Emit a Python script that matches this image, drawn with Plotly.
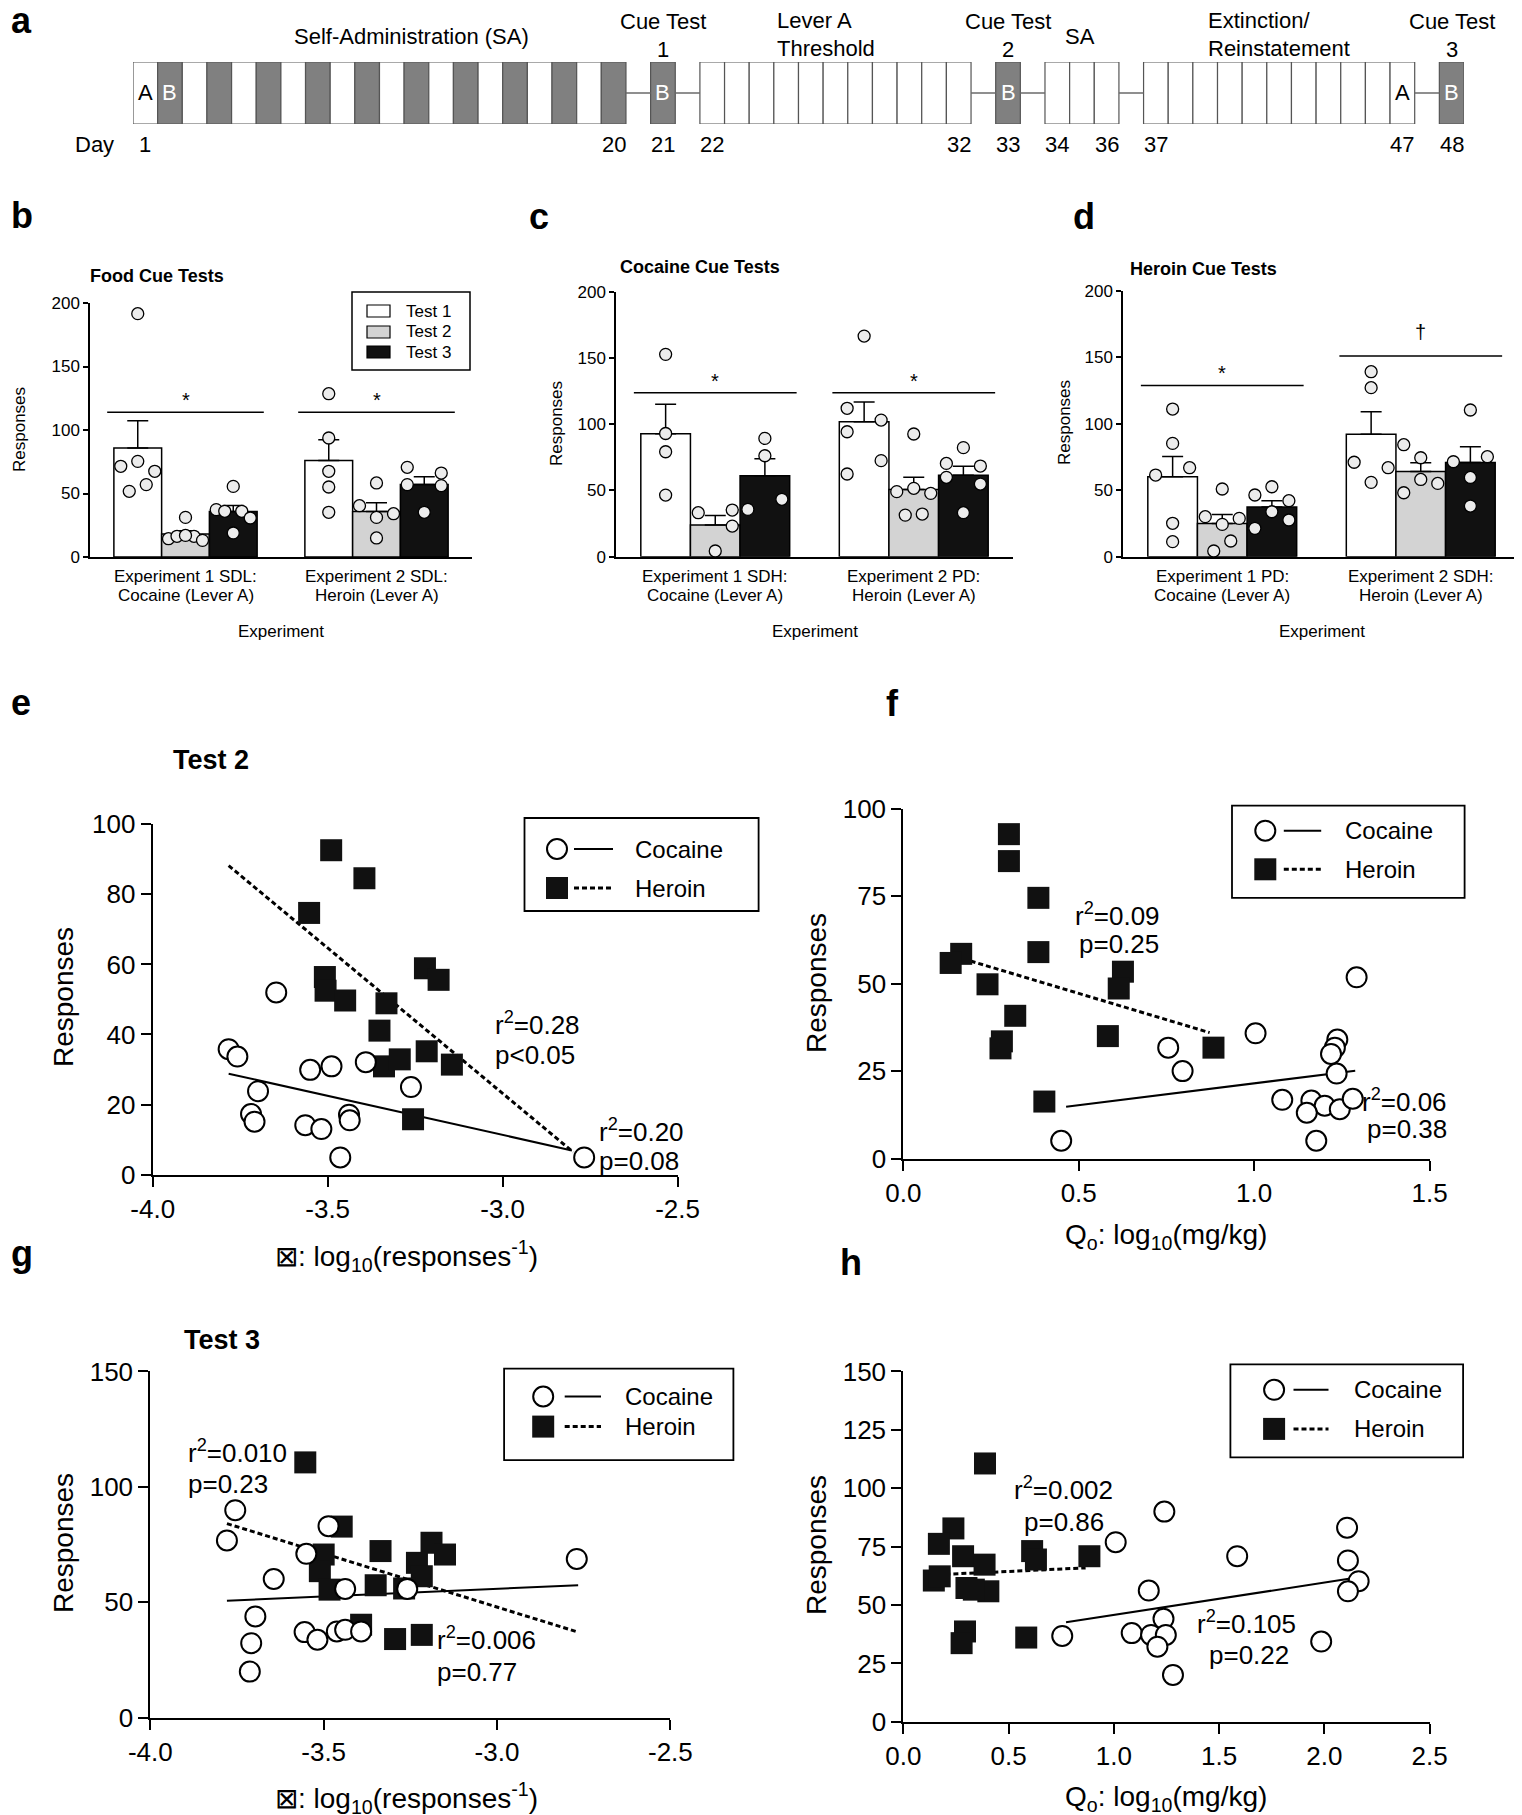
import numpy as np
import plotly.graph_objects as go

W, H = 1522, 1815
OFF = 8  # the page body adds an 8 px margin around the plot div
FONT = "Liberation Sans, Arial, Helvetica, sans-serif"

# ---------------- a: experiment timeline ----------------
phase_days = [(1, 20), (21, 21), (22, 32), (33, 33), (34, 36), (37, 47), (48, 48)]
lever_b_days = [2, 4, 6, 8, 10, 12, 14, 16, 18, 20, 21, 33, 48]
box_letters = {1: "A", 2: "B", 21: "B", 33: "B", 47: "A", 48: "B"}
day_ticks = [1, 20, 21, 22, 32, 33, 34, 36, 37, 47, 48]

# ---------------- b-d: cue tests, values per experiment [exp 1, exp 2] ----------------
test_names = ["Test 1", "Test 2", "Test 3"]

food_labels = [["Experiment 1 SDL:", "Cocaine (Lever A)"], ["Experiment 2 SDL:", "Heroin (Lever A)"]]
food_t1 = [[191.6, 71.4, 75.3, 67.5, 51.7, 57.0], [128.6, 93.7, 67.5, 55.1, 35.2]]
food_t2 = [[31.2, 14.4, 16.3, 16.3, 17.0, 13.1], [40.4, 58.3, 31.2, 34.1, 15.0]]
food_t3 = [[55.6, 37.3, 36.0, 36.0, 30.7, 18.9], [70.6, 57.0, 66.1, 56.2, 35.2]]
food_t1_pos = [[0, -2, 0, 2, -1, 1], [0, 0, 0, 0, 0]]
food_t2_pos = [[0, -2, -1, 1, 0, 2], [-2, 0, 0, 2, 0]]
food_t3_pos = [[0, -2, -1, 1, 2, 0], [-2, -2, 2, 2, 0]]
food_sig = [113.9, 113.9]
food_marks = ["*", "*"]

coc_labels = [["Experiment 1 SDH:", "Cocaine (Lever A)"], ["Experiment 2 PD:", "Heroin (Lever A)"]]
coc_t1 = [[152.7, 93.0, 79.2, 46.5], [166.5, 112.0, 94.3, 103.1, 72.5, 62.4]]
coc_t2 = [[33.2, 35.2, 23.1, 4.3], [92.6, 49.1, 51.6, 47.8, 31.4, 32.2]]
coc_t3 = [[89.3, 76.2, 35.7, 43.3], [82.3, 70.4, 68.4, 59.9, 54.8, 33.2]]
coc_t1_pos = [[0, 0, 0, 0], [0, -2, -2, 2, 2, -2]]
coc_t2_pos = [[-2, 2, 2, 0], [0, -2, 0, 2, -1, 1]]
coc_t3_pos = [[0, 0, -2, 2], [0, -2, 2, -2, 2, 0]]
coc_sig = [123.8, 123.8]
coc_marks = ["*", "*"]

her_labels = [["Experiment 1 PD:", "Cocaine (Lever A)"], ["Experiment 2 SDH:", "Heroin (Lever A)"]]
her_t1 = [[111.0, 85.2, 61.4, 66.9, 25.1, 11.3], [139.1, 127.1, 71.0, 66.9, 55.9]]
her_t2 = [[50.9, 30.1, 28.8, 24.3, 11.8, 4.3], [84.2, 74.4, 58.1, 55.1, 48.1]]
her_t3 = [[52.6, 46.4, 42.1, 33.8, 27.6, 21.3], [110.3, 71.4, 75.2, 59.6, 38.1]]
her_t1_pos = [[0, 0, -2, 2, 0, 0], [0, 0, -2, 2, 0]]
her_t2_pos = [[0, -2, 2, 0, 1, -1], [-2, 0, 0, 2, -2]]
her_t3_pos = [[0, -2, 2, 0, 2, -2], [0, -2, 2, 0, 0]]
her_sig = [128.8, 150.9]
her_marks = ["*", "\u2020"]

# ---------------- e-h: responses vs demand parameters ----------------
e_coc_x = [-3.783, -3.758, -3.647, -3.699, -3.719, -3.709, -3.550, -3.489, -3.391, -3.262,
           -3.564, -3.518, -3.439, -3.437, -3.464, -2.767]
e_coc_y = [35.8, 33.7, 52.0, 23.8, 17.3, 15.1, 29.9, 30.9, 32.1, 25.0, 14.1, 13.0, 17.1, 15.5, 4.9, 4.9]
e_her_x = [-3.490, -3.395, -3.553, -3.508, -3.506, -3.450, -3.332, -3.352, -3.222, -3.183,
           -3.217, -3.339, -3.294, -3.145, -3.256]
e_her_y = [92.6, 84.6, 74.7, 56.4, 52.5, 49.7, 48.9, 41.1, 58.9, 55.6, 35.2, 30.9, 32.9, 31.4, 15.8]
e_coc_fit_x, e_coc_fit_y = [-3.783, -2.802], [28.8, 6.9]
e_her_fit_x, e_her_fit_y = [-3.783, -2.798], [88.2, 6.4]
e_stats = [["r<sup>2</sup>=0.28", "p&lt;0.05"], ["r<sup>2</sup>=0.20", "p=0.08"]]

f_coc_x = [1.292, 1.004, 0.755, 0.796, 1.237, 1.230, 1.219, 1.235, 1.080, 1.163,
           1.201, 1.150, 1.244, 1.281, 1.177, 0.450]
f_coc_y = [51.8, 35.8, 31.7, 25.0, 34.0, 31.7, 29.9, 24.3, 16.8, 16.6, 15.1, 13.1, 14.1, 17.1, 5.1, 5.1]
f_her_x = [0.301, 0.301, 0.385, 0.385, 0.165, 0.135, 0.240, 0.319, 0.281, 0.277,
           0.626, 0.614, 0.583, 0.884, 0.402]
f_her_y = [92.7, 85.0, 74.5, 59.0, 58.5, 55.9, 49.8, 40.8, 33.5, 31.5, 53.4, 48.6, 35.0, 31.7, 16.3]
f_coc_fit_x, f_coc_fit_y = [0.464, 1.288], [14.8, 25.1]
f_her_fit_x, f_her_fit_y = [0.170, 0.873], [57.1, 36.0]
f_stats = [["r<sup>2</sup>=0.09", "p=0.25"], ["r<sup>2</sup>=0.06", "p=0.38"]]

g_coc_x = [-3.755, -3.779, -3.550, -3.486, -3.644, -3.438, -3.259, -2.770, -3.697, -3.709,
           -3.713, -3.555, -3.518, -3.462, -3.438, -3.392]
g_coc_y = [89.9, 76.8, 71.0, 83.0, 60.1, 55.8, 55.8, 68.8, 43.9, 32.3, 20.0, 37.1, 33.8, 37.4, 38.1, 37.4]
g_her_x = [-3.553, -3.448, -3.336, -3.189, -3.150, -3.231, -3.500, -3.511, -3.217, -3.350,
           -3.483, -3.392, -3.294, -3.217, -3.268]
g_her_y = [110.6, 82.8, 72.2, 75.8, 70.7, 67.1, 70.7, 63.5, 61.3, 57.4, 55.5, 40.3, 34.1, 35.9, 56.0]
g_coc_fit_x, g_coc_fit_y = [-3.779, -2.766], [50.7, 57.4]
g_her_fit_x, g_her_fit_y = [-3.779, -2.766], [84.1, 37.1]
g_stats = [["r<sup>2</sup>=0.010", "p=0.23"], ["r<sup>2</sup>=0.006", "p=0.77"]]

h_coc_x = [1.240, 1.009, 1.586, 2.108, 2.112, 2.163, 2.112, 1.166, 1.236, 1.085,
           1.177, 1.247, 1.207, 1.281, 0.755, 1.985]
h_coc_y = [90.0, 76.9, 70.9, 83.1, 69.1, 60.2, 55.9, 56.2, 44.1, 38.0, 37.2, 37.2, 32.2, 20.1, 36.8, 34.4]
h_her_x = [0.388, 0.238, 0.169, 0.284, 0.386, 0.612, 0.630, 0.884, 0.145, 0.173,
           0.300, 0.404, 0.335, 0.293, 0.277, 0.584]
h_her_y = [110.6, 82.8, 76.2, 70.9, 67.3, 73.1, 69.5, 70.9, 60.5, 62.3, 57.3, 55.9, 56.6, 38.7, 33.7, 36.1]
h_coc_fit_x, h_coc_fit_y = [0.773, 2.170], [42.6, 62.0]
h_her_fit_x, h_her_fit_y = [0.162, 0.866], [63.0, 65.9]
h_stats = [["r<sup>2</sup>=0.002", "p=0.86"], ["r<sup>2</sup>=0.105", "p=0.22"]]

series_names = ["Cocaine", "Heroin"]

# ---------------- figure helpers ----------------
fig = go.Figure()
layout = dict(width=W, height=H, margin=dict(l=0, r=0, t=0, b=0), paper_bgcolor="white",
              plot_bgcolor="rgba(0,0,0,0)", showlegend=False, barmode="overlay",
              font=dict(family=FONT, color="black"))
annotations, shapes = [], []


def fx(x):
    # page pixel -> paper fraction
    return (x - OFF) / W


def fy(y):
    return 1 - (y - OFF) / H


def text(s, x, y, size, anchor="center", bold=False, color="black", angle=0, xref="paper", yref="paper"):
    annotations.append(dict(
        text=f"<b>{s}</b>" if bold else s,
        x=fx(x) if xref == "paper" else x, y=fy(y) if yref == "paper" else y,
        xref=xref, yref=yref, xanchor=anchor, yanchor="middle", showarrow=False,
        textangle=angle, font=dict(family=FONT, size=size, color=color)))


def make_axes(i, box, xr, yr):
    left, top, right, bottom = box
    s = "" if i == 1 else str(i)
    common = dict(showgrid=False, zeroline=False, automargin=False, fixedrange=True)
    layout["xaxis" + s] = dict(domain=[fx(left), fx(right)], range=xr, anchor="y" + s, **common)
    layout["yaxis" + s] = dict(domain=[fy(bottom), fy(top)], range=yr, anchor="x" + s, **common)
    return "xaxis" + s, "yaxis" + s, "x" + s, "y" + s


# ---------------- panel a ----------------
slot_of = {}
slot = 0
for d0, d1 in phase_days:
    for d in range(d0, d1 + 1):
        slot_of[d] = slot
        slot += 1
    slot += 1
n_slots = slot - 1

xa, ya, xr, yr = make_axes(1, (133, 62, 1464, 124), [0, n_slots], [0, 1])
layout[xa]["visible"] = False
layout[ya]["visible"] = False

days = sorted(slot_of)
cx, cy = [], []
for (a0, a1), (b0, b1) in zip(phase_days[:-1], phase_days[1:]):
    cx += [slot_of[a1] + 1, slot_of[b0], None]
    cy += [0.5, 0.5, None]
fig.add_trace(go.Scatter(x=cx, y=cy, mode="lines", line=dict(color="#6a6a6a", width=1.5),
                         xaxis=xr, yaxis=yr, hoverinfo="skip"))
fig.add_trace(go.Bar(x=[slot_of[d] + 0.5 for d in days], y=[1] * len(days), width=1,
                     marker=dict(color=["#808080" if d in lever_b_days else "white" for d in days],
                                 line=dict(color="#555555", width=1.2)),
                     xaxis=xr, yaxis=yr, hoverinfo="skip"))
for d, s in box_letters.items():
    text(s, slot_of[d] + 0.5, 0.5, 22, color="white" if d in lever_b_days else "black", xref=xr, yref=yr)
for d in day_ticks:
    text(str(d), slot_of[d] + 0.5, 145, 22, xref=xr)
text("Day", 73, 145, 22, anchor="left")
text("Self-Administration (SA)", 411, 37, 22)
for num, cxp in zip(["1", "2", "3"], [slot_of[21], slot_of[33], slot_of[48]]):
    text("Cue Test", cxp + 0.5, 21, 22, xref=xr)
    text(num, cxp + 0.5, 50, 22, xref=xr)
text("Lever A", 775, 20, 22, anchor="left")
text("Threshold", 775, 48, 22, anchor="left")
text("SA", 1080, 37, 22)
text("Extinction/", 1206, 20, 22, anchor="left")
text("Reinstatement", 1206, 48, 22, anchor="left")

# ---------------- panels b-d ----------------
BAR_W = 0.25
bar_colors = ["white", "#d3d3d3", "#111111"]


def bar_panel(i, box, tests, pos, labels, sig_y, marks, title, title_xy):
    left, top, right, bottom = box
    xa, ya, xr, yr = make_axes(i, box, [-0.5, 1.5], [0, 200])
    layout[xa].update(showline=True, linecolor="black", linewidth=1.5, ticks="", showticklabels=False)
    layout[ya].update(showline=True, linecolor="black", linewidth=1.5, ticks="outside", ticklen=5,
                      tickwidth=1.5, tickcolor="black", tickvals=[0, 50, 100, 150, 200],
                      ticktext=["0", "50", "100", "150", "200"],
                      tickfont=dict(family=FONT, size=17, color="black"))
    unit_px = (right - left) / 2
    step = 8.5 / unit_px
    for k, vals in enumerate(tests):
        means = [float(np.mean(v)) for v in vals]
        sems = [float(np.std(v, ddof=1) / np.sqrt(len(v))) for v in vals]
        fig.add_trace(go.Bar(
            x=[g + (k - 1) * BAR_W for g in range(len(vals))], y=means, width=BAR_W,
            marker=dict(color=bar_colors[k], line=dict(color="black", width=1.5)),
            error_y=dict(type="data", array=sems, arrayminus=[0] * len(vals), symmetric=False,
                         color="black", thickness=1.5, width=10.5),
            name=test_names[k], xaxis=xr, yaxis=yr, hoverinfo="skip"))
    for k, (vals, p) in enumerate(zip(tests, pos)):
        xs, ys = [], []
        for g, (v, o) in enumerate(zip(vals, p)):
            xs += [g + (k - 1) * BAR_W + oo * step for oo in o]
            ys += list(v)
        fig.add_trace(go.Scatter(x=xs, y=ys, mode="markers", cliponaxis=False,
                                 marker=dict(size=12, color="#ececec", line=dict(color="black", width=1.3)),
                                 xaxis=xr, yaxis=yr, hoverinfo="skip"))
    scale = (bottom - top) / 200
    for g, (sy, m) in enumerate(zip(sig_y, marks)):
        shapes.append(dict(type="line", xref=xr, yref=yr, x0=g - 0.41, x1=g + 0.41, y0=sy, y1=sy,
                           line=dict(color="black", width=1.5)))
        ly = bottom - sy * scale
        if m == "*":
            text(m, g, ly - 12, 20, xref=xr)
        else:
            text(m, g, ly - 24, 20, xref=xr)
    for g, (l1, l2) in enumerate(labels):
        text(l1, g, 576, 17, xref=xr)
        text(l2, g, 595, 17, xref=xr)
    text("Experiment", (left + right) / 2, 631, 17)
    text(title, title_xy[0], title_xy[1], 18, anchor="left", bold=True)


bar_panel(2, (90, 303, 472, 557), [food_t1, food_t2, food_t3], [food_t1_pos, food_t2_pos, food_t3_pos],
          food_labels, food_sig, food_marks, "Food Cue Tests", (88, 276))
bar_panel(3, (616, 291.7, 1013, 556.7), [coc_t1, coc_t2, coc_t3], [coc_t1_pos, coc_t2_pos, coc_t3_pos],
          coc_labels, coc_sig, coc_marks, "Cocaine Cue Tests", (618, 267))
bar_panel(4, (1123, 290.7, 1520, 556.7), [her_t1, her_t2, her_t3], [her_t1_pos, her_t2_pos, her_t3_pos],
          her_labels, her_sig, her_marks, "Heroin Cue Tests", (1128, 269))
text("Responses", 20, 430, 17, angle=-90)
text("Responses", 557, 424, 17, angle=-90)
text("Responses", 1065, 423, 17, angle=-90)

# legend of panel b
shapes.append(dict(type="rect", xref="paper", yref="paper", x0=fx(352), x1=fx(470), y0=fy(370), y1=fy(292),
                   line=dict(color="black", width=1.5), fillcolor="white"))
for k, ry in enumerate([311, 332, 352]):
    shapes.append(dict(type="rect", xref="paper", yref="paper", x0=fx(367), x1=fx(390), y0=fy(ry + 6),
                       y1=fy(ry - 6), line=dict(color="black", width=1.2), fillcolor=bar_colors[k]))
    text(test_names[k], 404, ry, 17, anchor="left")

# ---------------- panels e-h ----------------


def scatter_panel(i, box, xr_, yr_, xticks, yticks, coc, her, coc_fit, her_fit, stats, stat_xy, leg):
    left, top, right, bottom = box
    xa, ya, xr, yr = make_axes(i, box, xr_, yr_)
    ax = dict(showline=True, linecolor="black", linewidth=2, ticks="outside", ticklen=10, tickwidth=2,
              tickcolor="black", tickfont=dict(family=FONT, size=26, color="black"))
    layout[xa].update(ax, tickvals=xticks, ticktext=[f"{v:.1f}" for v in xticks])
    layout[ya].update(ax, tickvals=yticks, ticktext=[str(v) for v in yticks])
    fig.add_trace(go.Scatter(x=coc_fit[0], y=coc_fit[1], mode="lines", line=dict(color="black", width=2),
                             xaxis=xr, yaxis=yr, hoverinfo="skip"))
    fig.add_trace(go.Scatter(x=her_fit[0], y=her_fit[1], mode="lines",
                             line=dict(color="black", width=3, dash="5px,3px"),
                             xaxis=xr, yaxis=yr, hoverinfo="skip"))
    fig.add_trace(go.Scatter(x=her[0], y=her[1], mode="markers", cliponaxis=False,
                             marker=dict(symbol="square", size=22, color="#111111", line=dict(width=0)),
                             name=series_names[1], xaxis=xr, yaxis=yr, hoverinfo="skip"))
    fig.add_trace(go.Scatter(x=coc[0], y=coc[1], mode="markers", cliponaxis=False,
                             marker=dict(symbol="circle", size=20, color="white",
                                         line=dict(color="black", width=2)),
                             name=series_names[0], xaxis=xr, yaxis=yr, hoverinfo="skip"))
    for (s1, s2), (x1, y1, x2, y2) in zip(stats, stat_xy):
        text(s1, x1, y1, 26, anchor="left")
        text(s2, x2, y2, 26, anchor="left")
    # legend
    bx0, by0, bx1, by1 = leg["box"]
    shapes.append(dict(type="rect", xref="paper", yref="paper", x0=fx(bx0), x1=fx(bx1), y0=fy(by1),
                       y1=fy(by0), line=dict(color="black", width=1.8), fillcolor="white", layer="below"))
    c = leg["cx"]
    r0, r1 = leg["rows"]
    shapes.append(dict(type="circle", xref="paper", yref="paper", x0=fx(c - 10), x1=fx(c + 10),
                       y0=fy(r0 + 10), y1=fy(r0 - 10), line=dict(color="black", width=2), fillcolor="white"))
    shapes.append(dict(type="rect", xref="paper", yref="paper", x0=fx(c - 11), x1=fx(c + 11),
                       y0=fy(r1 + 11), y1=fy(r1 - 11), line=dict(width=0), fillcolor="#111111"))
    lx0, lx1 = leg["line"]
    shapes.append(dict(type="line", xref="paper", yref="paper", x0=fx(lx0), x1=fx(lx1), y0=fy(r0), y1=fy(r0),
                       line=dict(color="black", width=2)))
    shapes.append(dict(type="line", xref="paper", yref="paper", x0=fx(lx0), x1=fx(lx1), y0=fy(r1), y1=fy(r1),
                       line=dict(color="black", width=3, dash="5px,3px")))
    text(series_names[0], leg["tx"], r0, 24, anchor="left")
    text(series_names[1], leg["tx"], r1, 24, anchor="left")


alpha_title = "\u22a0: log<sub>10</sub>(responses<sup>-1</sup>)"
q0_title = "Q<sub>o</sub>: log<sub>10</sub>(mg/kg)"

scatter_panel(5, (152.7, 824.3, 677.6, 1174.6), [-4, -2.5], [0, 100], [-4.0, -3.5, -3.0, -2.5],
              [0, 20, 40, 60, 80, 100], (e_coc_x, e_coc_y), (e_her_x, e_her_y),
              (e_coc_fit_x, e_coc_fit_y), (e_her_fit_x, e_her_fit_y), e_stats,
              [(493, 1023.6, 493, 1054.6), (597, 1130.7, 597, 1161)],
              dict(box=(524.5, 818, 758.6, 911), cx=557, rows=(849, 888), line=(574, 613), tx=632.6))
scatter_panel(6, (903.3, 808.6, 1429.6, 1158.6), [0, 1.5], [0, 100], [0.0, 0.5, 1.0, 1.5],
              [0, 25, 50, 75, 100], (f_coc_x, f_coc_y), (f_her_x, f_her_y),
              (f_coc_fit_x, f_coc_fit_y), (f_her_fit_x, f_her_fit_y), f_stats,
              [(1073.4, 914.6, 1076.8, 944.3), (1360.1, 1100.4, 1365, 1129)],
              dict(box=(1232, 805.7, 1464.6, 897.9), cx=1265.3, rows=(830.7, 869.3), line=(1283.8, 1321.2),
                   tx=1343))
scatter_panel(7, (150.3, 1371.4, 670.4, 1717.8), [-4, -2.5], [0, 150], [-4.0, -3.5, -3.0, -2.5],
              [0, 50, 100, 150], (g_coc_x, g_coc_y), (g_her_x, g_her_y),
              (g_coc_fit_x, g_coc_fit_y), (g_her_fit_x, g_her_fit_y), g_stats,
              [(185.7, 1451.4, 185.7, 1483.5), (434.8, 1638.8, 434.8, 1672.3)],
              dict(box=(504.1, 1368.7, 733.4, 1460.1), cx=543.2, rows=(1396.5, 1426.6), line=(564.7, 601),
                   tx=622.9))
scatter_panel(8, (903.3, 1371.4, 1429.6, 1721.9), [0, 2.5], [0, 150], [0.0, 0.5, 1.0, 1.5, 2.0, 2.5],
              [0, 25, 50, 75, 100, 125, 150], (h_coc_x, h_coc_y), (h_her_x, h_her_y),
              (h_coc_fit_x, h_coc_fit_y), (h_her_fit_x, h_her_fit_y), h_stats,
              [(1011.7, 1488.2, 1022.4, 1521.7), (1194.9, 1622, 1207, 1654.9)],
              dict(box=(1230.4, 1364.3, 1463.1, 1457.4), cx=1274.1, rows=(1389.8, 1428.9), line=(1293.5, 1328.5),
                   tx=1351.8))

text("Test 2", 171, 760, 27, anchor="left", bold=True)
text("Test 3", 182, 1340, 27, anchor="left", bold=True)
text("Responses", 63, 997, 28, angle=-90)
text("Responses", 816, 983, 28, angle=-90)
text("Responses", 63, 1543, 28, angle=-90)
text("Responses", 816, 1545, 28, angle=-90)
text(alpha_title, 407, 1256, 28)
text(q0_title, 1166, 1236, 28)
text(alpha_title, 407, 1798, 28)
text(q0_title, 1166, 1798, 28)

# panel letters (left/top ones kept just inside the plot div)
for letter, x, y in [("a", 9, 20), ("b", 9, 216), ("c", 527, 217), ("d", 1071, 217),
                     ("e", 9, 702), ("f", 884, 703), ("g", 9, 1253), ("h", 838, 1262)]:
    text(letter, x, y, 36, anchor="left", bold=True)

layout["annotations"] = annotations
layout["shapes"] = shapes
fig.update_layout(**layout)
fig.write_html("out.html")
